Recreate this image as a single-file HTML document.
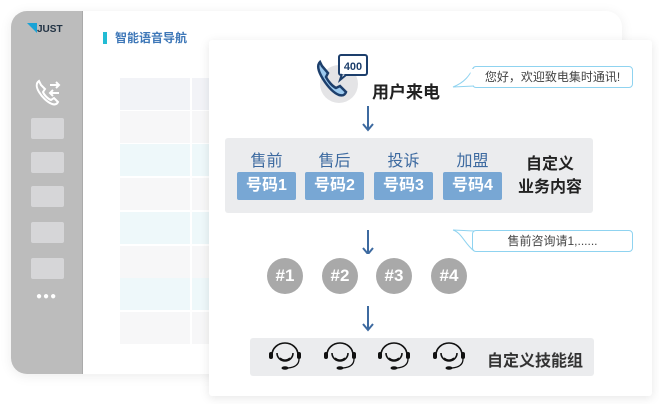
<!DOCTYPE html>
<html><head><meta charset="utf-8"><style>
*{margin:0;padding:0;box-sizing:border-box}
body{width:659px;height:404px;background:#fff;position:relative;overflow:hidden;font-family:"Liberation Sans","Noto Sans CJK SC",sans-serif}
.a{position:absolute}
.back{left:11px;top:11px;width:611px;height:363px;border-radius:16px;background:#fff;box-shadow:0 2px 12px rgba(0,0,0,.08);overflow:hidden}
.side{left:0;top:0;width:72px;height:363px;background:#bcbcbc;border-right:1px solid #aaa}
.sq{left:20px;width:33px;height:21px;background:#d6d6d8;border-radius:2px}
.row{left:109px;width:200px;height:32px}
.front{left:209px;top:40px;width:443px;height:356px;background:#fff;box-shadow:0 2px 10px rgba(0,0,0,.1);border-radius:3px}
.lab{font-size:16px;color:#3d6aa0;width:59px;text-align:center}
.btn{width:59px;height:28px;background:#78a7d4;color:#fff;font-weight:bold;font-size:16px;text-align:center;line-height:28px;border-radius:2px}
.circ{width:36px;height:36px;border-radius:50%;background:#a9a9a9;color:#fff;font-weight:bold;font-size:17px;text-align:center;line-height:36px}
.bub{height:22px;border:1px solid #8fd3f0;border-radius:4px;font-size:12px;color:#444;line-height:20px;background:#fff}
</style></head><body>
<div class="a back">
 <div class="a side">
  <div class="a" style="left:16px;top:14px;font-size:10px;color:#234;font-weight:bold;line-height:10px"><span style="color:#1aa3d6">◥</span>JUST</div>
  <svg class="a" style="left:22px;top:66px" width="30" height="30" viewBox="0 0 30 30"><path d="M6 4c-3 2-3 6 0 11s8 10 13 12c3 1 5 0 6-2l-4-4-3 2c-3-1-7-5-8-8l2-3-4-4z" fill="none" stroke="#fff" stroke-width="2"/><path d="M17 8h9m-3-3 3 3-3 3M26 16h-9m3-3-3 3 3 3" fill="none" stroke="#fff" stroke-width="2"/></svg>
  <div class="a sq" style="top:107px"></div><div class="a sq" style="top:141px"></div><div class="a sq" style="top:175px"></div><div class="a sq" style="top:211px"></div><div class="a sq" style="top:247px"></div>
  <div class="a" style="left:25px;top:280px;color:#fff;font-size:10px;letter-spacing:1px">●●●</div>
 </div>
 <div class="a" style="left:92px;top:21px;width:4px;height:12px;background:#22bcd4"></div>
 <div class="a" style="left:104px;top:18px;font-size:12px;font-weight:bold;color:#3f78b8">智能语音导航</div>
 <div class="a row" style="top:67px;background:#f2f3f7"></div>
 <div class="a row" style="top:100px;background:#f7f7f8"></div>
 <div class="a row" style="top:133px;background:#eef8fa"></div>
 <div class="a row" style="top:167px;background:#f7f7f8"></div>
 <div class="a row" style="top:201px;background:#eef8fa"></div>
 <div class="a row" style="top:235px;background:#f7f7f8"></div>
 <div class="a row" style="top:267px;background:#eef8fa"></div>
 <div class="a row" style="top:301px;background:#f7f7f8"></div>
 <div class="a" style="left:179px;top:67px;width:2px;height:266px;background:#fff"></div>
</div>
<div class="a front"></div>
<svg class="a" style="left:312px;top:52px" width="60" height="52" viewBox="0 0 60 52"><circle cx="27" cy="32" r="19" fill="#e4e4e6"/><path d="M8 10c-3 3-2 9 3 17s11 14 16 16c4 1 6 0 7-3l-6-6-4 2c-4-2-8-7-10-11l2-4-6-7z" fill="#9cc9ee" stroke="#1d3f6c" stroke-width="2.5"/><rect x="27" y="3" width="28" height="20" rx="2" fill="#fff" stroke="#1d3f6c" stroke-width="2"/><path d="M30 22l-2 6 6-5" fill="#fff" stroke="#1d3f6c" stroke-width="2"/><text x="41" y="18" font-size="11" font-weight="bold" fill="#1d3f6c" text-anchor="middle" font-family="Liberation Sans">400</text></svg>
<div class="a" style="left:372px;top:78px;font-size:17px;font-weight:bold;color:#222">用户来电</div>
<div class="a bub" style="left:472px;top:66px;width:161px;text-align:center">您好，欢迎致电集时通讯!</div>
<svg class="a" style="left:452px;top:66px" width="24" height="22"><path d="M22 1 C18 8 14 16 1 21 L22 20" fill="#fff" stroke="#8fd3f0"/><path d="M20 3v16" stroke="#fff" stroke-width="3"/></svg>
<svg class="a" style="left:361px;top:104px" width="14" height="150"><g stroke="#3d6aa0" stroke-width="2" fill="none"><path d="M7 2v24M2 20l5 6 5-6"/><path d="M7 126v24M2 144l5 6 5-6"/></g></svg>
<div class="a" style="left:225px;top:138px;width:368px;height:75px;background:#ebecee;border-radius:3px"></div>
<div class="a lab" style="left:237px;top:147px">售前</div><div class="a lab" style="left:305px;top:147px">售后</div><div class="a lab" style="left:374px;top:147px">投诉</div><div class="a lab" style="left:443px;top:147px">加盟</div>
<div class="a btn" style="left:237px;top:172px">号码1</div><div class="a btn" style="left:305px;top:172px">号码2</div><div class="a btn" style="left:374px;top:172px">号码3</div><div class="a btn" style="left:443px;top:172px">号码4</div>
<div class="a" style="left:512px;top:153px;width:76px;text-align:center;font-size:16px;font-weight:bold;color:#222;line-height:23px">自定义<br>业务内容</div>
<div class="a bub" style="left:472px;top:230px;width:161px;text-align:center">售前咨询请1,......</div>
<svg class="a" style="left:452px;top:229px" width="24" height="24"><path d="M1 1 L22 2 M1 1 C10 4 12 14 22 22" fill="#fff" stroke="#8fd3f0"/></svg>
<div class="a circ" style="left:267px;top:258px">#1</div><div class="a circ" style="left:322px;top:258px">#2</div><div class="a circ" style="left:376px;top:258px">#3</div><div class="a circ" style="left:431px;top:258px">#4</div>
<svg class="a" style="left:361px;top:304px" width="14" height="28"><path d="M7 2v24M2 20l5 6 5-6" stroke="#3d6aa0" stroke-width="2" fill="none"/></svg>
<div class="a" style="left:250px;top:338px;width:344px;height:38px;background:#ebecee;border-radius:3px"></div>
<svg class="a" style="left:268px;top:341px" width="200" height="34"><defs><g id="h"><path d="M4 14a13 12 0 0 1 26 0" fill="none" stroke="#111" stroke-width="1.6"/><path d="M9 12a8 8 0 1 0 16 0" fill="none" stroke="#111" stroke-width="1.6"/><path d="M12 17q5 4 10 0" fill="none" stroke="#111" stroke-width="1.3"/><rect x="1" y="11" width="4" height="7" rx="2" fill="#111"/><rect x="29" y="11" width="4" height="7" rx="2" fill="#111"/><path d="M31 18q0 8-11 9" fill="none" stroke="#111" stroke-width="1.3"/><ellipse cx="17" cy="27" rx="3.5" ry="1.8" fill="#111"/></g></defs><use href="#h" x="0"/><use href="#h" x="55"/><use href="#h" x="109"/><use href="#h" x="164"/></svg>
<div class="a" style="left:487px;top:347px;font-size:16px;font-weight:bold;color:#333">自定义技能组</div>
</body></html>
